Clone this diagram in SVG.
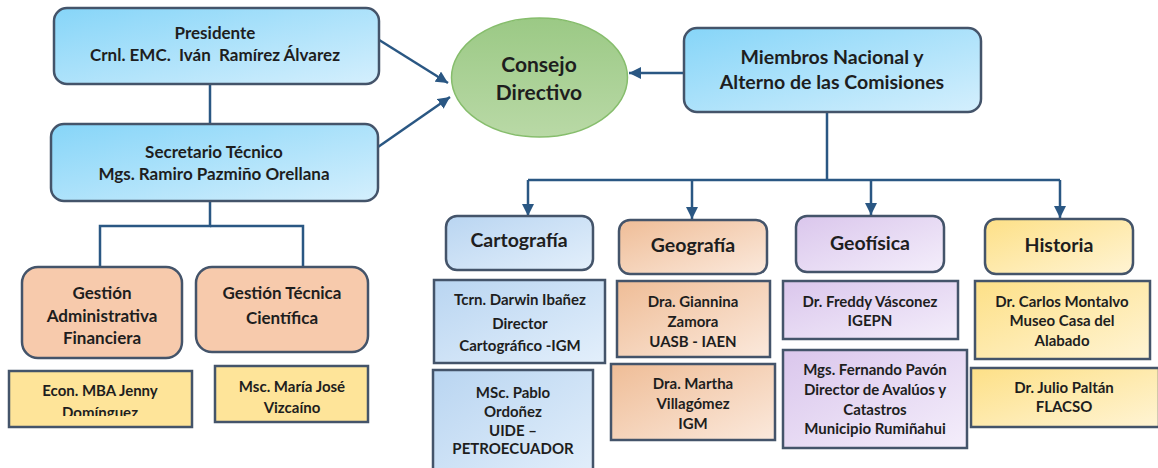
<svg xmlns="http://www.w3.org/2000/svg" width="1158" height="468" viewBox="0 0 1158 468">
<style>
text{font-family:Lato,"Liberation Sans",sans-serif;font-weight:bold;fill:#1e1e1e;text-anchor:middle;font-size:17px}
.b{stroke:#44546a;stroke-width:2.5}
.c{fill:none;stroke:#2a5783;stroke-width:2.5}
.big{font-size:19.5px}
.s{font-size:15px}
</style>
<defs>
<linearGradient id="gBlue" x1="0" y1="0" x2="1" y2="1"><stop offset="0" stop-color="#86d5f8"/><stop offset="1" stop-color="#d4effd"/></linearGradient>
<linearGradient id="gCart" x1="0" y1="0" x2="1" y2="1"><stop offset="0" stop-color="#b9d5f1"/><stop offset="1" stop-color="#e3effb"/></linearGradient>
<linearGradient id="gGeo" x1="0" y1="0" x2="1" y2="1"><stop offset="0" stop-color="#efbd97"/><stop offset="1" stop-color="#fbe9dc"/></linearGradient>
<linearGradient id="gPur" x1="0" y1="0" x2="1" y2="1"><stop offset="0" stop-color="#dac6ec"/><stop offset="1" stop-color="#f4eefb"/></linearGradient>
<linearGradient id="gYel" x1="0" y1="0" x2="1" y2="1"><stop offset="0" stop-color="#fde087"/><stop offset="1" stop-color="#fff4d4"/></linearGradient>
<linearGradient id="gGreen" x1="0" y1="0" x2="0" y2="1"><stop offset="0" stop-color="#9bc985"/><stop offset="1" stop-color="#b9d9a6"/></linearGradient>
<marker id="ah" viewBox="0 0 10 10" refX="10" refY="5" markerWidth="12" markerHeight="12" markerUnits="userSpaceOnUse" orient="auto"><path d="M0,0 L10,5 L0,10 Z" fill="#2a5783"/></marker>
<clipPath id="clipEcon"><rect x="10" y="372" width="181" height="44"/></clipPath>
</defs>

<g id="connectors">
<line class="c" x1="210" y1="84" x2="210" y2="124"/>
<polyline class="c" points="210,201 210,226 100,226 100,267"/>
<polyline class="c" points="210,226 303,226 303,267"/>
<line class="c" x1="376" y1="38" x2="448" y2="83" marker-end="url(#ah)"/>
<line class="c" x1="378" y1="147" x2="450" y2="97" marker-end="url(#ah)"/>
<line class="c" x1="684" y1="73" x2="629" y2="73" marker-end="url(#ah)"/>
<line class="c" x1="827" y1="112" x2="827" y2="180"/>
<line class="c" x1="528" y1="180" x2="1060" y2="180"/>
<line class="c" x1="528" y1="180" x2="528" y2="216" marker-end="url(#ah)"/>
<line class="c" x1="692" y1="180" x2="692" y2="219" marker-end="url(#ah)"/>
<line class="c" x1="871" y1="180" x2="871" y2="215" marker-end="url(#ah)"/>
<line class="c" x1="1060" y1="180" x2="1060" y2="218" marker-end="url(#ah)"/>
</g>

<g id="presidente">
<rect class="b" x="54" y="8" width="325" height="76" rx="13" fill="url(#gBlue)"/>
<text x="215" y="39">Presidente</text>
<text x="215" y="61" xml:space="preserve">Crnl. EMC.  Iván  Ramírez Álvarez</text>
</g>
<g id="secretario">
<rect class="b" x="51" y="124" width="327" height="77" rx="13" fill="url(#gBlue)"/>
<text x="214" y="158">Secretario Técnico</text>
<text x="214" y="180">Mgs. Ramiro Pazmiño Orellana</text>
</g>
<g id="consejo">
<ellipse cx="539.5" cy="77.5" rx="88" ry="59.5" fill="url(#gGreen)" stroke="#86bd6c" stroke-width="1.5"/>
<text x="539" y="72" style="font-size:21px">Consejo</text>
<text x="539" y="100" style="font-size:21px">Directivo</text>
</g>
<g id="miembros">
<rect class="b" x="684" y="28" width="297" height="84" rx="13" fill="url(#gBlue)"/>
<text class="big" x="832" y="64">Miembros Nacional y</text>
<text class="big" x="832" y="89">Alterno de las Comisiones</text>
</g>

<g id="gestion-admin">
<rect class="b" x="22" y="267" width="160" height="91" rx="16" fill="#f7caac"/>
<text x="102" y="299">Gestión</text>
<text x="102" y="322">Administrativa</text>
<text x="102" y="344">Financiera</text>
</g>
<g id="gestion-tecnica">
<rect class="b" x="196" y="267" width="172" height="85" rx="16" fill="#f7caac"/>
<text x="282" y="299">Gestión Técnica</text>
<text x="282" y="324">Científica</text>
</g>
<g id="econ">
<rect class="b" x="9" y="371" width="183" height="56" fill="#fee499"/>
<g clip-path="url(#clipEcon)">
<text class="s" x="100" y="396">Econ. MBA Jenny</text>
<text class="s" x="100" y="418">Domínguez</text>
</g>
</g>
<g id="msc-maria">
<rect class="b" x="215" y="366" width="153" height="56" fill="#fee499"/>
<text class="s" x="292" y="392">Msc. María José</text>
<text class="s" x="292" y="413">Vizcaíno</text>
</g>

<g id="cartografia">
<rect class="b" x="446" y="216" width="147" height="54" rx="11" fill="url(#gCart)"/>
<text class="big" x="519" y="247">Cartografía</text>
</g>
<g id="darwin">
<rect class="b" x="434" y="280" width="171" height="83" fill="url(#gCart)"/>
<text class="s" x="520" y="305">Tcrn. Darwin Ibañez</text>
<text class="s" x="520" y="329">Director</text>
<text class="s" x="520" y="351">Cartográfico -IGM</text>
</g>
<g id="pablo">
<rect class="b" x="433" y="370" width="160" height="110" fill="url(#gCart)"/>
<text class="s" x="513" y="398">MSc. Pablo</text>
<text class="s" x="513" y="417">Ordoñez</text>
<text class="s" x="513" y="436">UIDE –</text>
<text class="s" x="513" y="454">PETROECUADOR</text>
</g>

<g id="geografia">
<rect class="b" x="619" y="220" width="148" height="54" rx="11" fill="url(#gGeo)"/>
<text class="big" x="693" y="252">Geografía</text>
</g>
<g id="giannina">
<rect class="b" x="617" y="281" width="153" height="76" fill="url(#gGeo)"/>
<text class="s" x="693" y="307">Dra. Giannina</text>
<text class="s" x="693" y="327">Zamora</text>
<text class="s" x="693" y="347">UASB - IAEN</text>
</g>
<g id="martha">
<rect class="b" x="611" y="364" width="164" height="76" fill="url(#gGeo)"/>
<text class="s" x="693" y="389">Dra. Martha</text>
<text class="s" x="693" y="409">Villagómez</text>
<text class="s" x="693" y="429">IGM</text>
</g>

<g id="geofisica">
<rect class="b" x="796" y="216" width="148" height="56" rx="11" fill="url(#gPur)"/>
<text class="big" x="870" y="250">Geofísica</text>
</g>
<g id="freddy">
<rect class="b" x="783" y="281" width="175" height="58" fill="url(#gPur)"/>
<text class="s" x="870" y="307">Dr. Freddy Vásconez</text>
<text class="s" x="870" y="326">IGEPN</text>
</g>
<g id="fernando">
<rect class="b" x="783" y="350" width="184" height="98" fill="url(#gPur)"/>
<text class="s" x="875" y="375">Mgs. Fernando Pavón</text>
<text class="s" x="875" y="395">Director de Avalúos y</text>
<text class="s" x="875" y="415">Catastros</text>
<text class="s" x="875" y="434">Municipio Rumiñahui</text>
</g>

<g id="historia">
<rect class="b" x="985" y="219" width="148" height="55" rx="11" fill="url(#gYel)"/>
<text class="big" x="1059" y="252">Historia</text>
</g>
<g id="carlos">
<rect class="b" x="975" y="281" width="175" height="78" fill="url(#gYel)"/>
<text class="s" x="1062" y="307">Dr. Carlos Montalvo</text>
<text class="s" x="1062" y="326">Museo Casa del</text>
<text class="s" x="1062" y="346">Alabado</text>
</g>
<g id="julio">
<rect class="b" x="971" y="368" width="188" height="59" fill="url(#gYel)"/>
<text class="s" x="1064" y="393">Dr. Julio Paltán</text>
<text class="s" x="1064" y="412">FLACSO</text>
</g>
</svg>
